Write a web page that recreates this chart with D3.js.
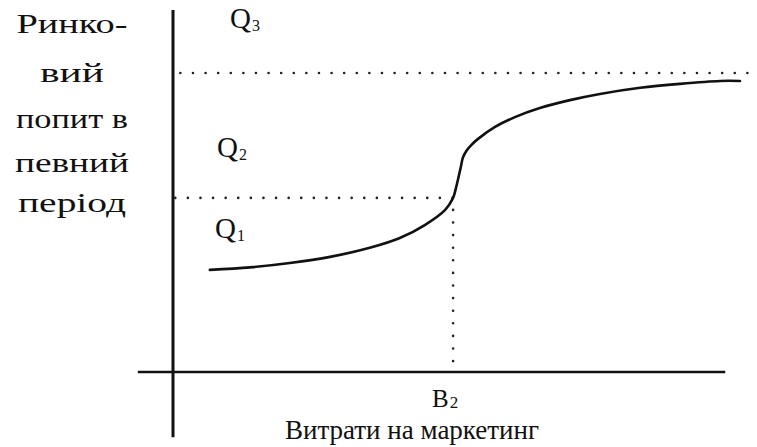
<!DOCTYPE html>
<html>
<head>
<meta charset="utf-8">
<script src="https://cdn.jsdelivr.net/npm/d3@7"></script>
<style>
  html, body { margin: 0; padding: 0; background: #fff; }
  svg { display: block; }
  text { font-family: "Liberation Serif", "Times New Roman", serif; fill: #111; }
</style>
</head>
<body>
<script>
// Demand response curve: market demand vs. marketing spending (relative units)
const spending = [6.5, 13.6, 20.6, 27.7, 34.7, 40.0, 44.4, 48.0, 49.4, 49.9, 50.4, 50.8, 51.1, 51.7, 52.6, 53.8, 56.8, 60.3, 64.7, 70.0, 75.3, 82.4, 89.4, 96.5, 100];
const demand   = [28.2, 28.9, 30.1, 31.8, 34.3, 37.0, 40.6, 44.8, 48.1, 50.8, 54.1, 56.9, 59.1, 61.0, 62.7, 64.4, 67.7, 70.4, 72.9, 75.1, 76.8, 78.5, 79.6, 80.4, 80.4];

// Reference levels
const levelQ1 = 48.1;   // demand reached at spending B2
const levelQ3 = 82.6;   // saturation level
const spendB2 = 49.4;

// Axis and label texts
const yTitleLines = ["Ринко-", "вий", "попит в", "певний", "період"];
const xTitle = "Витрати на маркетинг";
const qLabels = [
  { base: "Q", sub: "3" },
  { base: "Q", sub: "2" },
  { base: "Q", sub: "1" }
];
const bLabel = { base: "B", sub: "2" };

const W = 757, H = 447;
const svg = d3.select("body").append("svg").attr("width", W).attr("height", H);

const x = d3.scaleLinear().domain([0, 100]).range([173, 740]);
const y = d3.scaleLinear().domain([0, 100]).range([372, 10]);

// Axes (drawn as plain crossing lines, no ticks)
svg.append("line")
  .attr("x1", x(0)).attr("x2", x(0))
  .attr("y1", y(100)).attr("y2", y(-18))
  .attr("stroke", "#111").attr("stroke-width", 3);
svg.append("line")
  .attr("x1", x(-6.2)).attr("x2", x(97.4))
  .attr("y1", y(0)).attr("y2", y(0))
  .attr("stroke", "#111").attr("stroke-width", 2.6);

// Dotted guide lines
const dotted = (x1, y1, x2, y2) => svg.append("line")
  .attr("x1", x1).attr("y1", y1).attr("x2", x2).attr("y2", y2)
  .attr("stroke", "#222").attr("stroke-width", 2.6)
  .attr("stroke-linecap", "round")
  .attr("stroke-dasharray", "0 12.6");

dotted(x(1.3), y(levelQ3), x(101.8), y(levelQ3));
dotted(x(0.4), y(levelQ1), x(spendB2), y(levelQ1));
dotted(x(spendB2), y(levelQ1) + 12, x(spendB2), y(0));

// Response curve
const pts = spending.map((s, i) => [s, demand[i]]);
const line = d3.line()
  .x(d => x(d[0]))
  .y(d => y(d[1]))
  .curve(d3.curveCatmullRom.alpha(0.5));
svg.append("path")
  .attr("d", line(pts))
  .attr("fill", "none")
  .attr("stroke", "#111")
  .attr("stroke-width", 2.6)
  .attr("stroke-linecap", "round");

// Vertical axis title, stacked lines
const yTitleBase = [33, 82, 128, 172, 212];
const yTitleWidth = [111, 64, 112, 114, 108];
svg.append("g").selectAll("text")
  .data(yTitleLines)
  .join("text")
  .attr("x", 72)
  .attr("y", (d, i) => yTitleBase[i])
  .attr("text-anchor", "middle")
  .attr("font-size", 28)
  .attr("textLength", (d, i) => yTitleWidth[i])
  .attr("lengthAdjust", "spacingAndGlyphs")
  .text(d => d);

// Q level labels
const qPos = [[230, 28], [217, 157], [215, 238]];
qLabels.forEach((q, i) => {
  const t = svg.append("text")
    .attr("x", qPos[i][0]).attr("y", qPos[i][1])
    .attr("font-size", 29);
  t.append("tspan").text(q.base);
  t.append("tspan").attr("font-size", 16).attr("dy", 3).attr("dx", 1).text(q.sub);
});

// B2 label under the x axis
const bt = svg.append("text")
  .attr("x", x(spendB2) - 21).attr("y", 407)
  .attr("font-size", 25);
bt.append("tspan").text(bLabel.base);
bt.append("tspan").attr("font-size", 17).attr("dy", 1).attr("dx", 1).text(bLabel.sub);

// Horizontal axis title
svg.append("text")
  .attr("x", 412).attr("y", 439)
  .attr("text-anchor", "middle")
  .attr("font-size", 27)
  .text(xTitle);
</script>
</body>
</html>
